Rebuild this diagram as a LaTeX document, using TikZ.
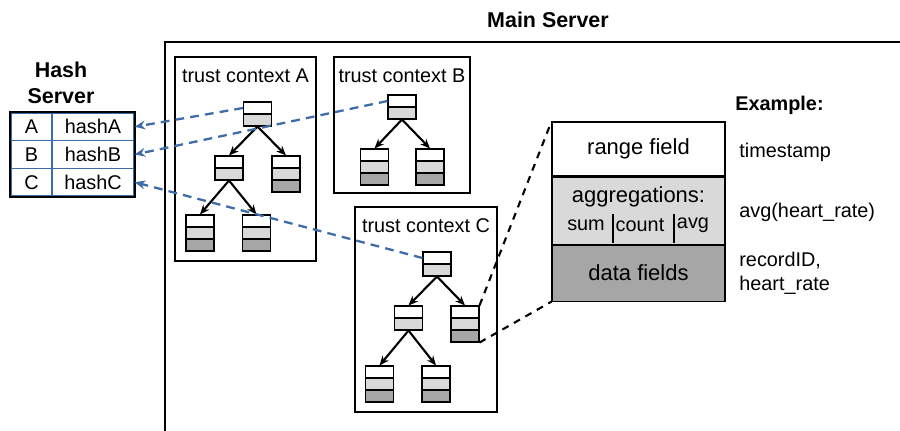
\documentclass[tikz,border=0pt]{standalone}
\usepackage{fontspec}
\setmainfont{Liberation Sans}
\usetikzlibrary{arrows.meta,fit}
\definecolor{linkblue}{RGB}{62,108,168}
\definecolor{lgray}{RGB}{217,217,217}
\definecolor{dgray}{RGB}{166,166,166}

\begin{document}
\begin{tikzpicture}[
    x=0.02cm, y=-0.02cm,
    txt/.style={font=\fontsize{11.3}{13.5}\selectfont, inner sep=0pt},
    bigtxt/.style={font=\fontsize{12.5}{15}\selectfont, inner sep=0pt},
    title/.style={font=\bfseries\fontsize{12.2}{14.7}\selectfont, align=center, inner sep=0pt},
    ctxbox/.style={draw, line width=1.2pt, inner sep=0pt},
    cell/.style={draw, line width=0.6pt, minimum width=0.56cm, minimum height=0.24cm, inner sep=0pt},
    hcell/.style={draw=linkblue, line width=0.8pt, minimum height=0.553cm, inner sep=0pt,
                  font=\fontsize{11.3}{13.5}\selectfont},
    rec/.style={draw, line width=0.6pt, minimum width=3.46cm, inner sep=0pt,
                font=\fontsize{12.5}{15}\selectfont},
    arr/.style={-{Stealth[length=5.5pt,width=4.5pt]}, line width=1.2pt},
    hashlink/.style={-{Stealth[length=6pt,width=5pt]}, linkblue, line width=1.3pt,
                     dash pattern=on 5pt off 3.5pt},
    zoomlink/.style={line width=1.2pt, dash pattern=on 4pt off 3.5pt}
  ]
    \useasboundingbox (0,0) rectangle (900,430);

    % hash server table
    \node[title] (hashtitle) at (61,83) {Hash\\Server};
    \node[hcell, minimum width=0.82cm] (keyA)  at (31.5,126.8) {A};
    \node[hcell, minimum width=1.64cm] (hashA) at (93,126.8)   {hashA};
    \node[hcell, minimum width=0.82cm] (keyB)  at (31.5,154.5) {B};
    \node[hcell, minimum width=1.64cm] (hashB) at (93,154.5)   {hashB};
    \node[hcell, minimum width=0.82cm] (keyC)  at (31.5,182.2) {C};
    \node[hcell, minimum width=1.64cm] (hashC) at (93,182.2)   {hashC};
    \draw[line width=1.2pt] (keyA.north west) rectangle (hashC.south east);

    % main server frame
    \node[title] (mainlabel) at (548,20) {Main Server};
    \draw[line width=1.5pt] (165,432) -- (165,42) -- (902,42);

    % trust contexts
    \node[ctxbox, fit={(175,57) (316,261)}] (ctxA) {};
    \node[ctxbox, fit={(334,57) (470,193)}] (ctxB) {};
    \node[ctxbox, fit={(355,207) (497,412)}] (ctxC) {};
    \node[txt] (ctxAname) at ([yshift=-0.4cm]ctxA.north) {trust context A};
    \node[txt] (ctxBname) at ([yshift=-0.4cm]ctxB.north) {trust context B};
    \node[txt] (ctxCname) at ([yshift=-0.4cm]ctxC.north) {trust context C};

    % tree nodes: name / x / top / number of parts
    \foreach \nm/\px/\py/\np in {a0/257.5/102/2, a1/229/156/2, a2/286/156/3,
        a3/200/215/3, a4/256.5/215/3, b0/402/95/2, b1/374.5/149/3, b2/430/149/3,
        c0/437/252/2, c1/408.5/306/2, c2/465/306/3, c3/379.5/366/3, c4/436/366/3}{
      \foreach \k/\fc in {1/white,2/lgray,3/dgray}{
        \ifnum\k>\np\relax\else
          \node[cell, fill=\fc] (\nm-\k) at (\px,\py+12*\k-6) {};
        \fi
      }
    }

    \draw[arr] (a0-2.south) -- (a1-1.north);
    \draw[arr] (a0-2.south) -- (a2-1.north);
    \draw[arr] (a1-2.south) -- (a3-1.north);
    \draw[arr] (a1-2.south) -- (a4-1.north);
    \draw[arr] (b0-2.south) -- (b1-1.north);
    \draw[arr] (b0-2.south) -- (b2-1.north);
    \draw[arr] (c0-2.south) -- (c1-1.north);
    \draw[arr] (c0-2.south) -- (c2-1.north);
    \draw[arr] (c1-2.south) -- (c3-1.north);
    \draw[arr] (c1-2.south) -- (c4-1.north);

    % record layout
    \node[rec, minimum height=1.08cm, fill=white] (rangecell) at (638.5,149) {range field};
    \node[rec, minimum height=1.34cm, fill=lgray, anchor=north] (aggcell) at (rangecell.south) {};
    \node[rec, minimum height=1.12cm, fill=dgray, anchor=north] (datacell) at (aggcell.south) {data fields};
    \node[bigtxt] (agglabel) at (638.5,197) {aggregations:};
    \node[txt] (sumlabel)   at (586,225) {sum};
    \node[txt] (countlabel) at (640,225) {count};
    \node[txt] (avglabel)   at (693,225) {avg};
    \draw[line width=1pt] (613,214) -- (613,243);
    \draw[line width=1pt] (674,214) -- (674,243);

    % example column
    \node[title, anchor=west, font=\bfseries\fontsize{11.3}{13.5}\selectfont] (examplehead) at (735,105) {Example:};
    \node[txt, anchor=west] (exrange) at (739,152) {timestamp};
    \node[txt, anchor=west] (exagg)   at (739,212) {avg(heart\_rate)};
    \node[txt, anchor=west, align=left] (exdata) at (739,273) {recordID,\\heart\_rate};

    \draw[zoomlink] (c2-1.north east) -- (rangecell.north west);
    \draw[zoomlink] (c2-3.south east) -- (datacell.south west);

    \draw[hashlink] (a0-1.west) -- (hashA.east);
    \draw[hashlink] (b0-1.west) -- (hashB.east);
    \draw[hashlink] (c0-1.west) -- (hashC.east);
  \end{tikzpicture}
\end{document}
